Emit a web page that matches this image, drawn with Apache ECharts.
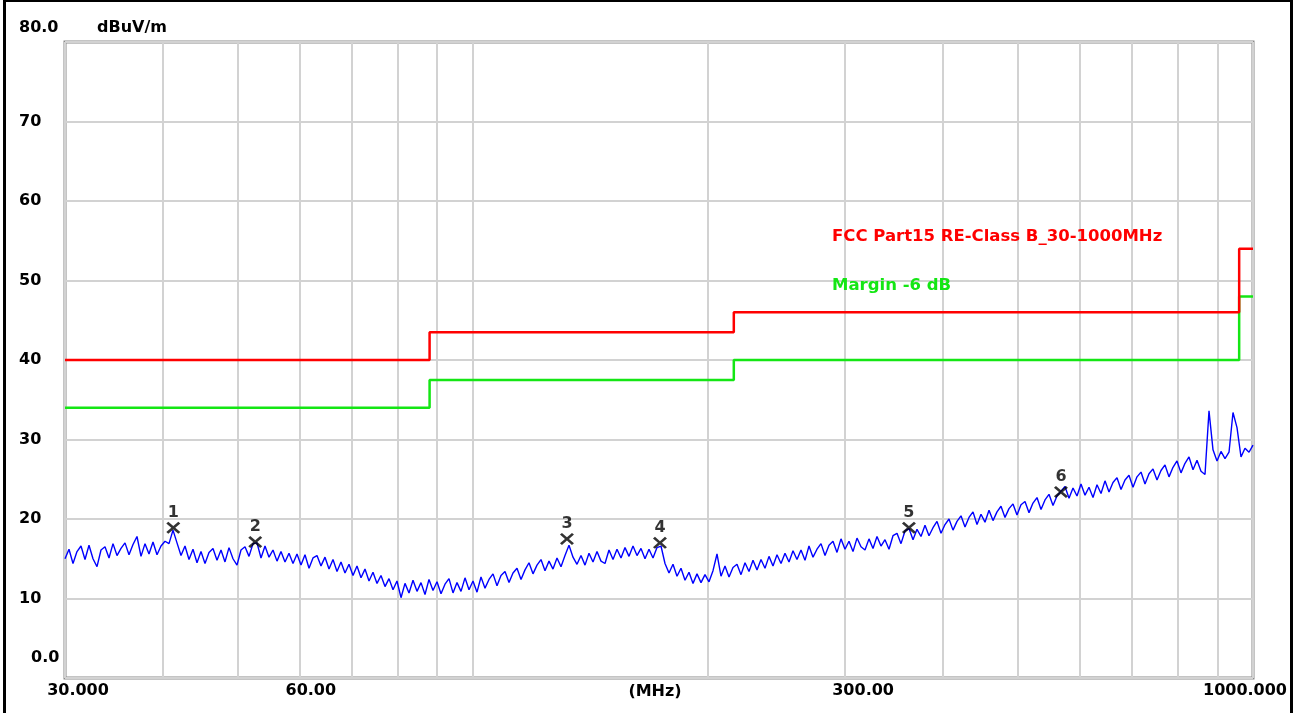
<!DOCTYPE html>
<html>
<head>
<meta charset="utf-8">
<script src="https://cdn.jsdelivr.net/npm/echarts@6/dist/echarts.min.js"></script>
<style>
html,body{margin:0;padding:0;background:#fff;}
#chart{position:absolute;left:0;top:0;width:1296px;height:713px;}
#frame{position:absolute;left:3px;top:0;width:1290px;height:800px;box-sizing:border-box;border-left:3px solid #000;border-right:3px solid #000;border-top:2px solid #000;pointer-events:none;}
</style>
</head>
<body>
<div id="chart"></div>
<div id="frame"></div>
<script>
// ---- data ----
const gridFreqs = [30,40,50,60,70,80,90,100,200,300,400,500,600,700,800,900,1000];
const labelFreqs = [30,60,300,1000];
const labelTexts = ['30.000','60.00','300.00','1000.000'];

const limitFreq   = [30, 88, 88, 216, 216, 960, 960, 1000];
const limitLevel  = [40, 40, 43.5, 43.5, 46, 46, 54, 54];
const marginLevel = [34, 34, 37.5, 37.5, 40, 40, 48, 48];

const markerNames = ['1','2','3','4','5','6'];
const markerFreq  = [41.3, 52.6, 132.0, 173.7, 362.2, 567.3];
const markerLevel = [18.9, 17.1, 17.5, 17.0, 18.9, 23.4];

// sweep trace (dBuV/m), equally spaced sweep points from 30 MHz to 1000 MHz
const trace = [
15.0,16.2,14.4,15.9,16.6,14.9,16.7,15.0,14.0,16.1,16.5,15.1,16.9,15.4,16.3,17.0,15.5,16.8,17.8,15.3,
16.9,15.6,17.1,15.5,16.6,17.2,16.9,18.6,
17.0,15.4,16.6,14.9,16.2,14.5,15.9,14.4,15.8,16.3,14.8,16.1,14.6,16.4,15.0,14.2,16.1,16.5,15.3,16.9,
17.0,
15.1,16.6,15.2,16.1,14.7,15.9,14.6,15.7,14.4,15.6,14.2,15.5,13.8,15.1,15.4,14.1,15.2,13.7,14.9,13.4,
14.6,13.2,14.3,12.9,14.1,12.6,13.7,12.2,13.3,11.9,12.9,11.5,12.5,11.1,12.2,
10.1,
11.9,10.7,12.3,10.9,12.0,10.5,12.4,11.0,12.1,10.6,11.8,12.5,10.7,12.0,10.9,12.6,11.1,12.2,10.8,12.7,
11.3,12.4,13.1,11.6,
12.9,13.4,12.0,13.2,13.8,12.4,13.6,14.5,13.1,14.2,14.9,13.5,14.7,13.7,15.1,14.0,15.4,
16.7,
15.2,14.3,15.4,14.2,15.7,14.6,15.9,14.7,14.4,16.1,14.9,16.2,15.1,16.4,15.3,16.6,15.4,16.3,15.0,16.2,
15.1,16.4,
16.6,
14.4,13.2,14.3,12.8,13.8,12.3,13.3,11.9,13.1,12.0,13.0,12.1,13.5,
15.6,
12.8,14.1,12.7,13.9,14.3,13.0,14.5,13.4,14.8,13.6,14.9,13.8,15.3,14.1,15.5,14.4,15.7,14.6,16.0,14.9,
16.1,14.8,16.6,15.2,16.2,16.9,15.4,16.7,17.2,15.8,17.5,16.2,17.2,15.9,17.6,16.5,16.1,17.5,16.3,17.8,
16.6,17.4,16.2,17.9,18.2,16.9,18.5,
18.8,
17.4,18.7,17.8,19.2,17.9,18.9,19.7,18.2,19.3,20.0,18.6,19.7,20.4,19.0,20.2,20.9,19.3,20.6,19.6,21.1,
19.8,20.9,21.6,20.2,21.3,21.9,20.5,21.8,22.2,20.8,22.0,22.7,21.2,22.4,23.1,21.7,22.9,
23.5,
24.1,22.6,23.9,22.9,24.4,23.0,24.0,22.7,24.3,23.2,24.8,23.4,24.6,25.2,23.7,24.9,25.5,24.0,25.3,25.9,
24.4,25.7,26.3,24.9,26.1,26.8,25.3,26.5,27.3,25.8,27.0,27.8,26.2,27.4,26.0,25.6,
33.6,28.7,27.3,28.5,27.6,28.4,33.4,31.5,27.8,28.9,28.4,29.3
];

// ---- chart ----
const FONT = 'DejaVu Sans';
const chart = echarts.init(document.getElementById('chart'), null, {renderer:'canvas'});

const txt = {fontFamily:FONT,fontWeight:'bold',fontSize:16,color:'#000'};
const labelRich = {
  a:Object.assign({},txt,{padding:[0,0,0,26]}),
  b:Object.assign({},txt,{padding:[0,0,0,22]}),
  c:Object.assign({},txt,{padding:[0,0,0,36]}),
  d:Object.assign({},txt,{padding:[0,16,0,0]})
};
const labelKeys = ['a','b','c','d'];

chart.setOption({
  animation:false,
  backgroundColor:'#fff',
  grid:{left:65,right:43,top:42,bottom:35,outerBoundsMode:'none',containLabel:false,
        show:true,borderColor:'#8a8a8a',borderWidth:3,backgroundColor:'transparent'},
  legend:{
    show:true, orient:'vertical', left:822, top:222, itemGap:29, icon:'none', itemWidth:0, itemHeight:0,
    selectedMode:false,
    data:[
      {name:'FCC Part15 RE-Class B_30-1000MHz', textStyle:{color:'#ff0000'}},
      {name:'Margin -6 dB', textStyle:{color:'#14e614'}}
    ],
    textStyle:{fontFamily:FONT,fontWeight:'bold',fontSize:16.5,lineHeight:20,padding:0}
  },
  xAxis:[{
    type:'log', logBase:10, min:30, max:1000,
    name:'(MHz)', nameLocation:'middle', nameGap:6, nameMoveOverlap:false,
    nameTextStyle:Object.assign({},txt,{verticalAlign:'top',padding:[0,8,0,0]}),
    axisLine:{show:false},
    axisTick:{show:false, customValues:gridFreqs},
    splitLine:{show:true,lineStyle:{color:'#d2d2d2',width:2}},
    axisLabel:Object.assign({},txt,{
      customValues:labelFreqs, margin:5, verticalAlign:'top',
      formatter:function(v){const k=labelFreqs.findIndex(f=>Math.abs(f-v)<1e-6);return k<0?'':'{'+labelKeys[k]+'|'+labelTexts[k]+'}';},
      rich:labelRich
    })
  },{
    type:'value', min:0, max:trace.length-1, show:false,
    splitLine:{show:false}
  }],
  yAxis:{
    type:'value', min:0, max:80, interval:10,
    name:'dBuV/m', nameLocation:'end', nameGap:14, nameMoveOverlap:false,
    nameTextStyle:Object.assign({},txt,{align:'left',verticalAlign:'middle',padding:[0,0,0,32]}),
    axisLine:{show:false}, axisTick:{show:false},
    splitLine:{show:true,lineStyle:{color:'#d2d2d2',width:2}},
    axisLabel:Object.assign({},txt,{
      align:'left', margin:46,
      formatter:function(v){ if(v===80) return '{t|80.0}'; if(v===0) return '{z|0.0}'; return '{n|'+v+'}'; },
      rich:{
        t:Object.assign({},txt,{padding:[0,0,28,0]}),
        z:Object.assign({},txt,{padding:[0,0,40,12]}),
        n:Object.assign({},txt)
      }
    })
  },
  series:[
    {
      name:'Margin -6 dB', type:'line', xAxisIndex:0, symbol:'none',
      data:limitFreq.map((f,i)=>[f,marginLevel[i]]),
      lineStyle:{color:'#14e614',width:2.5}, itemStyle:{color:'#14e614'}, z:3
    },
    {
      name:'FCC Part15 RE-Class B_30-1000MHz', type:'line', xAxisIndex:0, symbol:'none',
      data:limitFreq.map((f,i)=>[f,limitLevel[i]]),
      lineStyle:{color:'#ff0000',width:2.5}, itemStyle:{color:'#ff0000'}, z:3
    },
    {
      name:'trace', type:'line', xAxisIndex:1, symbol:'none',
      data:trace.map((v,i)=>[i,v]),
      lineStyle:{color:'#0000ff',width:1.4}, z:4
    },
    {
      name:'markers', type:'scatter', xAxisIndex:0,
      data:markerFreq.map((f,i)=>({value:[f,markerLevel[i]],name:markerNames[i]})),
      symbol:'path://M0,2L2,0L7,5L12,0L14,2L9,7L14,12L12,14L7,9L2,14L0,12L5,7Z',
      symbolSize:[14,12], itemStyle:{color:'#000'}, z:6,
      label:{show:true,position:'top',distance:1,formatter:p=>p.name,
        fontFamily:FONT,fontWeight:'bold',fontSize:16,color:'#000'}
    }
  ]
});
</script>
</body>
</html>
